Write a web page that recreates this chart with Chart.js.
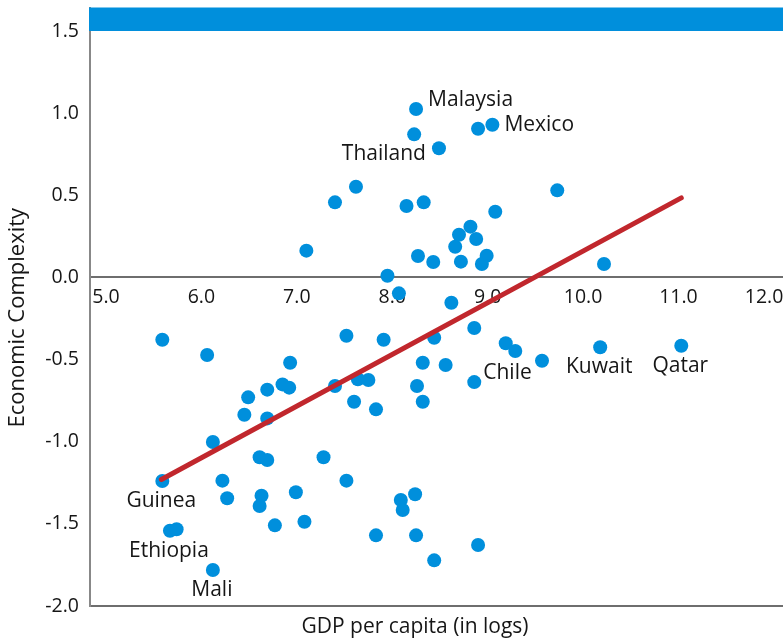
<!DOCTYPE html>
<html>
<head>
<meta charset="utf-8">
<script src="https://cdn.jsdelivr.net/npm/chart.js@4/dist/chart.umd.min.js"></script>
<style>
  html, body { margin: 0; padding: 0; background: #fff; overflow: hidden; }
  #wrap { width: 830px; height: 643px; }
</style>
</head>
<body>
<div id="wrap"><canvas id="chart" width="830" height="643"></canvas></div>
<script>
// Labelled countries come first, in the same order as countryNames
const countryNames = ['Malaysia', 'Mexico', 'Thailand', 'Chile', 'Kuwait', 'Qatar', 'Guinea', 'Ethiopia', 'Mali'];

// log GDP per capita
const gdp = [
    8.25, 9.05, 8.49, 8.86, 10.18, 11.03, 5.59, 5.67, 6.12,
    8.23, 8.90, 7.62, 7.40, 8.15, 8.33, 9.73, 9.08, 8.82, 8.70,
    8.88, 8.66, 7.10, 8.27, 8.43, 8.72, 8.99, 8.94, 7.95, 10.22,
    8.07, 8.62, 5.59, 6.06, 6.93, 6.85, 6.92, 6.69, 6.49, 6.45,
    6.69, 6.12, 7.40, 7.52, 7.60, 7.91, 8.86, 8.44, 9.19, 9.29,
    9.57, 8.32, 8.56, 7.64, 7.75, 8.26, 7.83, 8.32, 6.61, 6.69,
    7.28, 6.22, 6.27, 6.63, 6.61, 6.99, 7.52, 6.77, 7.08, 5.74,
    8.09, 8.24, 8.11, 7.83, 8.25, 8.44, 8.90
];

// economic complexity index
const complexity = [
    1.025, 0.929, 0.786, -0.637, -0.425, -0.416, -1.239, -1.542, -1.781,
    0.871, 0.905, 0.552, 0.457, 0.435, 0.457, 0.530, 0.400, 0.309, 0.260,
    0.234, 0.187, 0.163, 0.130, 0.094, 0.096, 0.132, 0.082, 0.010, 0.082,
    -0.097, -0.154, -0.379, -0.472, -0.519, -0.651, -0.671, -0.683, -0.730, -0.836,
    -0.858, -1.002, -0.661, -0.355, -0.757, -0.379, -0.308, -0.367, -0.401, -0.448,
    -0.507, -0.519, -0.533, -0.620, -0.624, -0.661, -0.803, -0.757, -1.095, -1.111,
    -1.095, -1.237, -1.344, -1.329, -1.391, -1.308, -1.237, -1.509, -1.487, -1.533,
    -1.355, -1.320, -1.416, -1.570, -1.570, -1.722, -1.629
];

// fitted trend line end points
const fitX = [5.58, 11.03];
const fitY = [-1.23, 0.484];

const xTicks = [5, 6, 7, 8, 9, 10, 11, 12];
const yTicks = [-2, -1.5, -1, -0.5, 0, 0.5, 1, 1.5];

const BLUE = '#008fdc';
const RED = '#c1272d';
const AXIS_GREY = '#6e6e6e';
const TEXT = '#161616';
const FONT = '"Open Sans", "Noto Sans", sans-serif';
const EN_SPACE = '\u2002';

const where = {
    Malaysia: 'right', Mexico: 'right', Thailand: 'left', Chile: 'rightUp'
};

// blue band across the top of the plot, above the 1.5 line
const topBand = {
    id: 'topBand',
    beforeDatasetsDraw(chart) {
        const { ctx, chartArea, scales } = chart;
        const yb = scales.y.getPixelForValue(1.5);
        ctx.save();
        ctx.fillStyle = BLUE;
        ctx.fillRect(chartArea.left - 1, chartArea.top, chartArea.right - chartArea.left + 1, yb - chartArea.top);
        ctx.restore();
    }
};

// country names next to their points
const countryLabels = {
    id: 'countryLabels',
    afterDatasetsDraw(chart) {
        const { ctx } = chart;
        const meta = chart.getDatasetMeta(1);
        ctx.save();
        ctx.font = '21px ' + FONT;
        ctx.fillStyle = TEXT;
        ctx.textBaseline = 'middle';
        countryNames.forEach((name, i) => {
            const pt = meta.data[i];
            const side = where[name] || 'below';
            if (side === 'right') {
                ctx.textAlign = 'left';
                ctx.fillText(name, pt.x + 12, pt.y + (name === 'Malaysia' ? -9 : 0));
            } else if (side === 'rightUp') {
                ctx.textAlign = 'left';
                ctx.fillText(name, pt.x + 9, pt.y - 9);
            } else if (side === 'left') {
                ctx.textAlign = 'right';
                ctx.fillText(name, pt.x - 13, pt.y + 6);
            } else {
                ctx.textAlign = 'center';
                ctx.fillText(name, pt.x - 1, pt.y + 20);
            }
        });
        ctx.restore();
    }
};

const points = gdp.map((g, i) => ({ x: g, y: complexity[i] }));
const fitLine = fitX.map((g, i) => ({ x: g, y: fitY[i] }));

new Chart(document.getElementById('chart'), {
    type: 'scatter',
    data: {
        datasets: [
            {
                type: 'line',
                data: fitLine,
                borderColor: RED,
                borderWidth: 5,
                borderCapStyle: 'round',
                pointRadius: 0,
                fill: false,
                order: 0
            },
            {
                data: points,
                backgroundColor: BLUE,
                borderWidth: 0,
                pointRadius: 7,
                pointHoverRadius: 7,
                order: 1
            }
        ]
    },
    options: {
        responsive: false,
        devicePixelRatio: 1,
        animation: false,
        layout: { autoPadding: false, padding: { top: 7.5, left: 0, right: 0, bottom: 0 } },
        plugins: {
            legend: { display: false },
            tooltip: { enabled: false },
            title: {
                display: true,
                position: 'bottom',
                text: 'GDP per capita (in logs)',
                color: TEXT,
                font: { family: FONT, size: 21, weight: 'normal' },
                padding: { top: 8.4, bottom: 3.4 }
            }
        },
        scales: {
            x: {
                type: 'linear',
                position: { y: 0 },
                min: 4.832,
                max: 12.589,
                afterBuildTicks: scale => { scale.ticks = xTicks.map(v => ({ value: v })); },
                afterFit: scale => {
                    scale.paddingLeft = 0;
                    scale.paddingRight = 0;
                },
                grid: { display: false, drawTicks: false },
                border: { display: false },
                ticks: {
                    color: TEXT,
                    padding: 8,
                    maxRotation: 0,
                    font: { family: FONT, size: 19.5 },
                    // last label is pulled in from the right edge
                    callback: v => v === 12 ? v.toFixed(1) + EN_SPACE + EN_SPACE : v.toFixed(1)
                }
            },
            y: {
                type: 'linear',
                position: 'left',
                min: -2,
                max: 1.643,
                afterBuildTicks: scale => { scale.ticks = yTicks.map(v => ({ value: v })); },
                afterFit: scale => {
                    scale.width = 90;
                    scale.paddingTop = 0;
                    scale.paddingBottom = 0;
                },
                grid: {
                    drawTicks: false,
                    lineWidth: 2,
                    color: c => (c.tick && (c.tick.value === 0 || c.tick.value === -2)) ? AXIS_GREY : 'rgba(0,0,0,0)'
                },
                border: { display: true, color: '#888', width: 2 },
                ticks: {
                    color: TEXT,
                    padding: 11,
                    font: { family: FONT, size: 19.5 },
                    callback: v => v.toFixed(1)
                },
                title: {
                    display: true,
                    text: 'Economic Complexity' + EN_SPACE + EN_SPACE,
                    color: TEXT,
                    font: { family: FONT, size: 22 },
                    padding: { top: 5, bottom: 0 }
                }
            }
        }
    },
    plugins: [topBand, countryLabels]
});
</script>
</body>
</html>
